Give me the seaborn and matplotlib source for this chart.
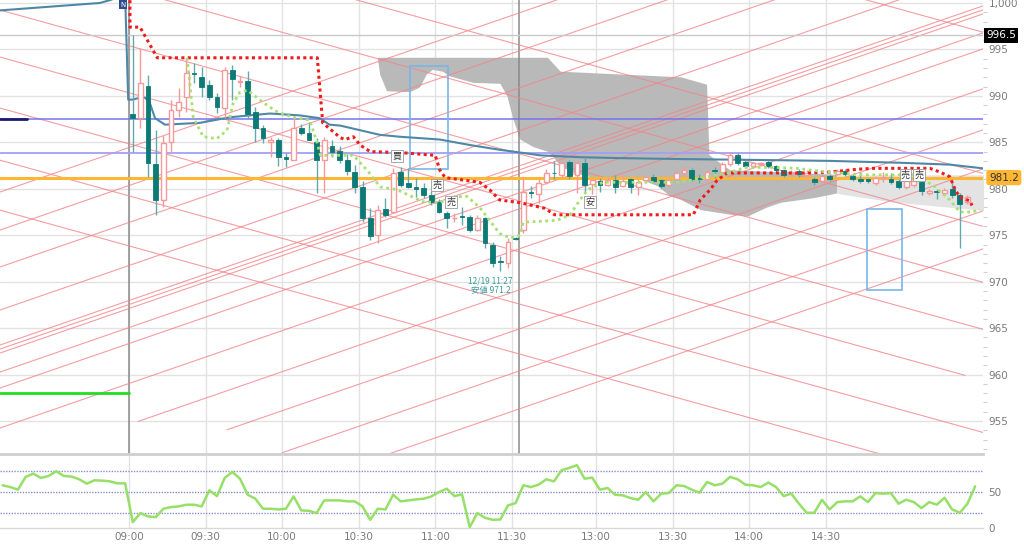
import numpy as np
import pandas as pd
import matplotlib
matplotlib.use("Agg")
import matplotlib.pyplot as plt
import matplotlib.transforms as mtrans
from matplotlib.patches import Rectangle
from matplotlib.ticker import FuncFormatter, MultipleLocator, FixedLocator
import seaborn as sns

# ---------------- data ----------------
# 3-minute bars, index 0 = 09:00 bar
open_ = [988.1, 987.6, 991.1, 982.7, 978.8, 985.0, 988.5, 989.9, 992.5, 992.0,
         991.2, 989.9, 988.7, 992.8, 991.5, 991.6, 988.3, 986.5, 985.0, 985.3,
         983.4, 983.1, 986.5, 986.0, 985.0, 983.1, 984.6, 984.1, 983.1, 981.8,
         980.2, 976.9, 975.0, 977.8, 977.5, 981.8, 980.6, 980.2, 980.1, 979.3,
         978.6, 977.4, 976.8, 977.0, 977.0, 975.6, 976.8, 974.0, 972.2, 972.0,
         974.7, 975.6, 979.7, 979.4, 980.7, 981.75, 981.5, 982.9, 981.5, 982.8,
         980.5, 980.8, 980.4, 980.9, 980.3, 981.0, 980.2, 980.9, 981.3, 980.9,
         980.4, 981.0, 981.7, 982.0, 981.15, 981.1, 982.05, 981.8, 982.7, 983.6,
         982.9, 982.4, 982.65, 982.9, 982.4, 982.0, 981.7, 981.9, 981.5, 981.1,
         980.8, 981.4, 981.6, 981.9, 981.4, 981.1, 981.0, 980.6, 981.15, 981.0,
         980.8, 980.2, 980.4, 980.7, 979.5, 979.8, 979.5, 980.0, 979.3, 978.6]
high = [996.5, 995.2, 992.2, 986.3, 985.8, 989.6, 990.9, 994.1, 993.5, 993.1,
        991.7, 990.3, 993.1, 993.3, 992.1, 992.7, 988.8, 986.9, 985.6, 985.5,
        983.8, 987.6, 987.0, 987.2, 985.5, 985.6, 985.3, 984.6, 983.7, 982.6,
        980.8, 977.9, 978.2, 979.0, 982.2, 982.3, 982.2, 981.2, 980.6, 979.8,
        978.9, 977.6, 977.4, 978.0, 977.2, 977.2, 977.0, 974.3, 972.8, 974.7,
        974.8, 981.3, 980.3, 981.0, 982.1, 983.0, 983.0, 983.1, 983.0, 983.4,
        981.0, 981.2, 981.3, 981.5, 981.5, 981.2, 981.0, 981.5, 981.6, 981.1,
        981.2, 981.9, 982.4, 982.2, 981.6, 982.0, 982.3, 982.9, 983.8, 983.9,
        983.1, 982.9, 982.9, 983.1, 982.6, 982.1, 982.0, 982.1, 982.0, 981.3,
        981.6, 981.6, 982.1, 982.1, 981.6, 981.8, 981.2, 981.4, 981.8, 981.7,
        981.0, 981.0, 981.0, 981.0, 980.0, 980.0, 980.1, 980.7, 979.5, 979.3]
low = [984.0, 986.5, 981.3, 977.2, 978.0, 984.0, 987.7, 988.3, 991.4, 989.9,
       989.6, 988.2, 987.6, 989.6, 991.0, 987.6, 985.0, 984.9, 983.4, 982.5,
       982.3, 983.1, 985.8, 985.2, 979.5, 979.5, 983.4, 982.8, 981.5, 979.5,
       976.4, 974.5, 974.2, 977.0, 977.4, 980.2, 980.1, 979.1, 979.0, 978.3,
       977.4, 975.8, 976.4, 976.1, 975.4, 975.5, 973.6, 971.6, 971.2, 971.5,
       974.5, 975.2, 979.0, 978.5, 980.5, 981.0, 981.3, 981.1, 979.5, 979.5,
       979.4, 979.6, 980.3, 979.5, 980.2, 979.5, 979.3, 980.8, 980.6, 980.1,
       980.2, 980.9, 981.5, 980.8, 980.6, 980.9, 981.2, 981.6, 982.5, 982.6,
       982.2, 982.3, 982.5, 982.2, 981.8, 981.3, 981.5, 981.3, 981.2, 980.4,
       980.6, 980.8, 981.5, 981.4, 980.8, 980.6, 980.6, 980.4, 980.7, 980.5,
       980.0, 980.0, 980.2, 979.3, 979.3, 978.9, 979.3, 979.0, 973.6, 978.4]
close = [987.6, 991.4, 982.8, 978.8, 984.9, 988.5, 989.3, 992.5, 992.4, 991.0,
         989.9, 988.8, 992.8, 991.8, 991.6, 988.1, 986.5, 985.5, 985.2, 983.4,
         983.2, 986.5, 986.0, 985.3, 983.1, 985.3, 984.0, 983.1, 981.9, 980.2,
         976.9, 974.9, 977.7, 977.2, 981.7, 980.4, 980.2, 980.0, 979.3, 978.6,
         977.5, 976.9, 976.9, 976.95, 975.6, 976.9, 974.2, 972.0, 972.1, 974.3,
         974.6, 979.6, 979.5, 980.6, 981.7, 981.65, 982.8, 981.4, 982.8, 980.4,
         980.9, 980.4, 980.9, 980.2, 980.8, 980.2, 980.7, 981.3, 980.8, 980.3,
         980.9, 981.7, 982.0, 981.0, 981.05, 981.8, 981.95, 982.7, 983.6, 982.8,
         982.4, 982.8, 982.75, 982.4, 982.0, 981.5, 981.85, 981.6, 981.7, 980.7,
         981.4, 981.0, 981.9, 981.6, 981.0, 980.8, 980.8, 981.2, 981.25, 980.7,
         980.2, 980.8, 980.8, 979.8, 979.8, 979.7, 979.9, 979.3, 978.4, 979.1]

# oscillator (lower panel), first value at bar index -17 (previous session)
osc_start = -17
osc = [59.6, 57.2, 53.4, 71.4, 76.1, 70.0, 72.8, 79.4, 72.8, 71.9, 68.1, 61.9,
       66.7, 66.2, 65.2, 62.4, 62.4,
       7.5, 20.3, 15.6, 14.7, 26.5, 28.8, 29.8, 32.2, 32.2, 29.8, 52.5, 44.4,
       70.0, 78.5, 69.0, 46.3, 40.7, 26.5, 26.5, 25.5, 26.5, 44.0, 24.1, 23.6,
       20.3, 38.3, 38.3, 38.3, 36.9, 36.9, 29.8, 10.9, 26.5, 25.5, 46.3, 36.9,
       38.3, 39.7, 40.7, 44.0, 50.1, 54.8, 44.4, 46.8, 0.5, 20.3, 13.7, 10.9,
       11.3, 31.2, 34.5, 59.6, 57.2, 60.5, 68.1, 65.2, 80.9, 84.2, 88.0, 69.0,
       70.4, 53.4, 55.8, 46.3, 45.4, 41.6, 39.2, 50.1, 36.9, 47.8, 48.7, 59.6,
       58.6, 53.4, 49.2, 64.3, 59.6, 61.9, 71.4, 68.1, 60.5, 59.6, 57.2, 63.4,
       57.2, 44.4, 47.8, 33.6, 20.8, 20.8, 39.2, 25.5, 35.9, 36.9, 36.9, 44.0,
       35.9, 48.7, 47.8, 48.7, 33.6, 39.2, 35.9, 27.4, 35.9, 32.2, 42.1, 25.5,
       20.8, 33.6, 58.2]

# VWAP-like line (bar index, price)
vwap_i = [-17.34, -4.3, -3.0, -1.0, -0.6, 0.0, 0.9, 1.6, 2.2, 2.9, 4.2, 8.8, 12.7,
          17.9, 21.8, 24.4, 25.7, 27.1, 29.7, 32.3, 34.9, 40.1, 44.1, 47.9, 50.6,
          53.2, 58.4, 63.6, 71.5, 81.9, 91.1, 100.2, 106.7, 111.0]
vwap_p = [999.2, 1000.0, 1000.3, 1000.9, 989.6, 989.6, 989.8, 989.8, 989.3, 987.6,
          986.9, 987.1, 987.7, 988.1, 987.9, 987.6, 986.9, 986.8, 986.3, 985.8,
          985.6, 985.3, 984.7, 984.2, 983.9, 983.6, 983.4, 983.3, 983.2, 983.1,
          983.0, 982.8, 982.6, 982.2]

# red dotted (base line)
base_i = [-0.37, -0.37, 0.94, 3.2, 24.1, 24.8, 27.1, 27.7, 28.8, 29.7, 31.0, 34.9,
          39.5, 40.1, 40.8, 45.3, 46.6, 47.9, 50.6, 53.8, 55.1, 73.2, 74.1, 75.4,
          76.3, 77.6, 87.9, 91.1, 94.6, 96.7, 104.1, 105.4, 106.7, 107.4, 108.0,
          109.3, 109.6]
base_p = [1000.3, 997.4, 997.4, 994.1, 994.1, 987.1, 985.5, 985.3, 985.6, 984.7,
          984.0, 983.9, 983.6, 982.0, 981.2, 980.7, 979.9, 978.8, 978.5, 977.9,
          977.2, 977.2, 978.8, 979.9, 980.9, 981.7, 981.7, 981.8, 982.1, 982.2,
          982.2, 981.8, 981.3, 979.9, 979.1, 978.7, 978.2]

# green dotted (conversion line)
conv_i = [7.1, 7.9, 9.2, 11.0, 12.3, 13.1, 14.0, 15.0, 17.0, 18.8, 20.9, 23.1, 24.1,
          24.5, 28.8, 30.6, 32.3, 34.5, 36.6, 37.9, 40.1, 41.8, 43.6, 45.3, 46.6,
          47.9, 49.3, 50.6, 51.0, 53.2, 55.4, 57.1, 58.4, 59.4, 61.4, 71.5, 77.6,
          80.2, 83.6, 86.7, 90.7, 95.4, 101.9, 104.5, 106.7, 108.0, 109.7, 110.6]
conv_p = [994.1, 987.7, 985.6, 985.4, 986.3, 989.2, 990.4, 990.6, 989.3, 988.3,
          987.7, 987.4, 984.9, 983.6, 983.6, 982.0, 980.2, 979.9, 979.1, 978.6,
          978.5, 979.1, 979.2, 978.0, 976.6, 975.2, 974.7, 975.0, 976.4, 976.5,
          976.6, 977.2, 978.8, 979.9, 980.7, 980.7, 981.7, 982.3, 982.3, 982.2,
          981.8, 981.5, 981.5, 980.4, 978.8, 977.5, 977.5, 977.8]

# cloud (dark part: upper then lower boundary), light part
cloud_up_i = [32.0, 54.2, 55.9, 71.6, 75.0, 75.3, 78.0, 92.0]
cloud_up_p = [994.1, 994.1, 992.6, 992.0, 991.2, 983.6, 982.0, 981.5]
cloud_lo_i = [32.0, 32.3, 33.2, 36.2, 37.5, 38.4, 39.2, 40.5, 41.4, 44.5, 48.0, 48.9,
              49.7, 50.6, 52.3, 54.5, 55.9, 57.6, 61.1, 66.3, 68.5, 70.2, 71.6,
              74.2, 78.1, 80.3, 82.9, 84.7, 87.3, 89.0, 90.8, 92.0]
cloud_lo_p = [994.1, 992.3, 990.5, 990.4, 990.9, 992.3, 992.8, 992.6, 992.1, 991.4,
              991.3, 990.0, 987.5, 985.3, 984.5, 983.9, 982.4, 981.7, 981.0, 981.0,
              980.3, 979.2, 978.8, 977.7, 977.2, 977.0, 978.0, 978.5, 978.8, 979.0,
              979.3, 979.5]
cloud2_i = [92.0, 99.0, 112.0]
cloud2_top = [981.5, 981.5, 981.5]
cloud2_bot = [979.5, 978.6, 977.6]

# diagonal trend lines: price at bar 0, slope per bar, first / last bar
up_p0 = [984.58, 980.49, 976.51, 971.88, 968.11, 967.68, 967.25, 965.20, 963.48,
         959.18, 954.76, 950.56, 946.04, 941.95]
up_from = [-18, -18, -18, -18, -18, -18, -18, -18, -18, -18, 0.7, 12.3, 19.5, 33.6]
up_slope = 0.2844
dn_p0 = [1022.2, 1007.0, 1001.3, 995.28, 990.22, 984.73, 979.12, 973.74]
dn_to = [112, 112, 112, 112, 112, 108.7, 112, 112]
dn_slope = -0.2283

# horizontal levels
lvl_blue = 987.5
lvl_purple = 983.85
lvl_orange = 981.2
lvl_high = 996.5
lvl_green = 958.0

# rectangles (bar start, bar end, price low, price high)
rects = [(36.2, 41.1, 982.1, 993.2), (95.9, 100.4, 969.1, 977.8)]

# signal boxes
sig_text = ["買", "売", "売", "安", "売", "売"]
sig_i = [34.5, 39.7, 41.6, 59.7, 100.9, 102.7]
sig_p = [983.5, 980.4, 978.6, 978.6, 981.5, 981.5]

# time axis
time_labels = ["09:00", "09:30", "10:00", "10:30", "11:00", "11:30",
               "13:00", "13:30", "14:00", "14:30"]
time_bar = [0, 10, 20, 30, 40, 50, 61, 71, 81, 91]
session_breaks = [0, 51]
low_bar, low_price, low_time = 48, 971.2, "12/19 11:27"

# ---------------- styling ----------------
sns.set_theme(style="white")
plt.rcParams['font.family'] = ['DejaVu Sans', 'Noto Sans CJK JP']
CJK = ['Noto Sans CJK JP', 'DejaVu Sans']

PINK = '#f59a9a'
TEAL = '#0d7a76'
TEAL_W = '#62a9ab'
LINEPINK = '#f2858b'
GRID = '#e2e2e2'
TXT = '#7a7a7a'

W, H = 1024, 547
fig = plt.figure(figsize=(W / 100, H / 100), dpi=100)
fig.patch.set_facecolor('white')
ax = fig.add_axes([0, 1 - 454 / H, 983 / W, 454 / H])
ax2 = fig.add_axes([0, 1 - 527.5 / H, 983 / W, (527.5 - 456) / H])

XL = (-17.34, 111.03)
ax.set_xlim(*XL)
ax.set_ylim(951.45, 1000.32)
ax2.set_xlim(*XL)
ax2.set_ylim(0, 101)

tick_pos = [b - 0.5 for b in time_bar]
for a in (ax, ax2):
    a.set_facecolor('white')
    for s in a.spines.values():
        s.set_visible(False)
    a.xaxis.set_major_locator(FixedLocator(tick_pos))
    a.grid(False)
    for t in tick_pos:
        a.axvline(t, color=GRID, lw=1, zorder=0)

ax.spines['bottom'].set_visible(True)
ax.spines['bottom'].set_color('#cfcfcf')
ax.spines['bottom'].set_linewidth(2)
ax2.spines['bottom'].set_visible(True)
ax2.spines['bottom'].set_color('#d8d8d8')
ax2.spines['bottom'].set_linewidth(1)

ax.set_xticklabels([])
ax.tick_params(axis='x', length=0)
ax2.set_xticks(tick_pos)
ax2.set_xticklabels(time_labels, fontsize=7.5, color=TXT)
ax2.tick_params(axis='x', length=0, pad=3)

# y axis right
ax.yaxis.tick_right()
ax.yaxis.set_major_locator(MultipleLocator(5))
ax.yaxis.set_minor_locator(MultipleLocator(1))
ax.yaxis.set_major_formatter(FuncFormatter(lambda v, p: f"{v:,.0f}"))
ax.tick_params(axis='y', which='major', length=0, pad=4, labelsize=7.5, labelcolor=TXT)
ax.tick_params(axis='y', which='minor', length=3, color='#d0d0d0', width=0.8)
for v in np.arange(955, 1001, 5):
    ax.axhline(v, color=GRID, lw=1, zorder=0)

ax2.yaxis.tick_right()
ax2.set_yticks([0, 50])
ax2.set_yticklabels(["0", "50"])
ax2.tick_params(axis='y', length=0, pad=4, labelsize=7.5, labelcolor=TXT)
for v in (20, 50, 80):
    ax2.axhline(v, color='#8c8cd0', lw=1, ls=(0, (1, 1)), zorder=1)

# cloud
poly_i = cloud_up_i + cloud_lo_i[::-1]
poly_p = cloud_up_p + cloud_lo_p[::-1]
ax.fill(poly_i, poly_p, color='#b9b9b9', lw=0, zorder=1)
ax.fill_between(cloud2_i, cloud2_bot, cloud2_top, color='#e3e3e3', lw=0, zorder=1)

# session separators
for b in session_breaks:
    ax.axvline(b - 0.5, color='#8a8a8a', lw=1.1, zorder=2)

# diagonal lines
xs_end = 112
for p0, s0 in zip(up_p0, up_from):
    xx = np.array([s0, xs_end])
    ax.plot(xx, p0 + up_slope * xx, color=LINEPINK, lw=0.8, alpha=0.8, zorder=2)
for p0, e0 in zip(dn_p0, dn_to):
    xx = np.array([-18, e0])
    ax.plot(xx, p0 + dn_slope * xx, color=LINEPINK, lw=0.8, alpha=0.8, zorder=2)

# horizontal lines
ax.axhline(lvl_high, color='#c9c9c9', lw=1, zorder=2)
ax.axhline(lvl_blue, color='#7474ee', lw=1.1, zorder=3)
ax.axhline(lvl_purple, color='#a0a0f5', lw=1.3, zorder=3)
ax.axhline(lvl_orange, color='#ffb733', lw=2.2, zorder=3)
ax.plot([XL[0], -13.8], [lvl_blue, lvl_blue], color='#1c1c6c', lw=2, zorder=3)
ax.plot([XL[0], -0.5], [lvl_green, lvl_green], color='#22dd22', lw=2, zorder=3)

# rectangles
for (a0, a1, b0, b1) in rects:
    ax.add_patch(Rectangle((a0, b0), a1 - a0, b1 - b0, fill=False,
                           ec='#79b6e6', lw=1.2, zorder=3))

# vwap line
sns.lineplot(x=vwap_i, y=vwap_p, ax=ax, color='#4f88a6', lw=1.5, zorder=4,
             sort=False, estimator=None)

# candles
df = pd.DataFrame(dict(i=np.arange(len(open_)), o=open_, h=high, l=low, c=close))
up = df.c >= df.o
ax.vlines(df.i[up], df.l[up], df.h[up], color=PINK, lw=1, zorder=5)
ax.vlines(df.i[~up], df.l[~up], df.h[~up], color=TEAL_W, lw=1, zorder=5)
bw = 0.62
ax.bar(df.i[up], (df.c - df.o)[up].clip(lower=0.07), bottom=df.o[up], width=bw,
       facecolor='white', edgecolor=PINK, lw=1, zorder=6)
ax.bar(df.i[~up], (df.o - df.c)[~up].clip(lower=0.07), bottom=df.c[~up], width=bw,
       facecolor=TEAL, edgecolor=TEAL, lw=0.6, zorder=6)

# dotted indicator lines
sns.lineplot(x=base_i, y=base_p, ax=ax, color='#ee1c1c', lw=2.2, ls=(0, (1, 1.1)),
             zorder=7, sort=False, estimator=None)
sns.lineplot(x=conv_i, y=conv_p, ax=ax, color='#a8e070', lw=2.0, ls=(0, (1, 1.3)),
             zorder=7, sort=False, estimator=None)

# signals
for t, xi, yp in zip(sig_text, sig_i, sig_p):
    ax.text(xi, yp, t, fontsize=6.5, family=CJK, color='#333333', ha='center',
            va='center', zorder=9,
            bbox=dict(boxstyle='square,pad=0.15', fc='white', ec='#999999', lw=0.6))

# low annotation
ax.annotate(f"{low_time}\n安値 {low_price}", xy=(low_bar, low_price),
            xytext=(-7, -4), textcoords='offset points', ha='center', va='top',
            fontsize=6, family=CJK, color='#3a9a9a', linespacing=1.1, zorder=9)

# N marker
ax.text(-1.3, 999.8, "N", fontsize=5, color='white', ha='center', va='center',
        zorder=9, bbox=dict(boxstyle='square,pad=0.2', fc='#2d4e8c', ec='none'))

# right-side price labels
tr = mtrans.blended_transform_factory(ax.transAxes, ax.transData)
ax.text(1.003, lvl_high, f"{lvl_high}", transform=tr, fontsize=7.5, color='white',
        ha='left', va='center', clip_on=False, zorder=10,
        bbox=dict(boxstyle='square,pad=0.2', fc='black', ec='none'))
ax.text(1.006, lvl_orange, f"{lvl_orange}", transform=tr, fontsize=7.5, color='#333333',
        ha='left', va='center', clip_on=False, zorder=10,
        bbox=dict(boxstyle='round,pad=0.25', fc='#ffb733', ec='none'))

# oscillator
osc_i = np.arange(osc_start, osc_start + len(osc))
sns.lineplot(x=osc_i, y=osc, ax=ax2, color='#97e068', lw=1.8, zorder=3,
             sort=False, estimator=None)

for a in (ax, ax2):
    a.set_xlabel("")
    a.set_ylabel("")

fig.savefig("out.png", dpi=100, facecolor='white')
